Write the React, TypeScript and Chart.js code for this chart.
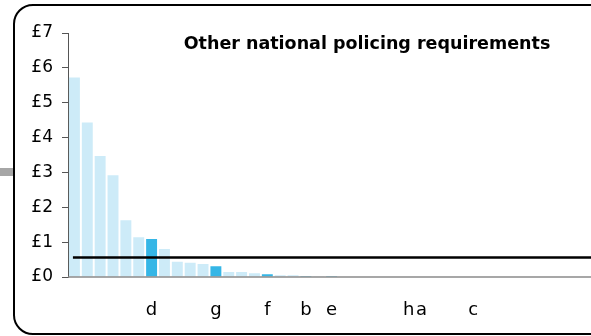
import React, { useEffect, useRef } from "react";
import { Chart, registerables } from "chart.js";

Chart.register(...registerables);

const chartTitle = "Other national policing requirements";

const categories = [
  "", "", "", "", "", "", "d", "", "", "",
  "", "g", "", "", "", "f", "", "", "b", "",
  "e", "", "", "", "", "", "h", "a", "", "",
  "", "c", "", "", "", "", "", "", "", "",
];

const values = [
  5.72, 4.43, 3.47, 2.92, 1.63, 1.14, 1.09, 0.8, 0.44, 0.41,
  0.37, 0.31, 0.14, 0.14, 0.11, 0.08, 0.05, 0.05, 0.03, 0.02,
  0.03, 0, 0, 0, 0, 0, 0, 0, 0, 0,
  0, 0, 0, 0, 0, 0, 0, 0, 0, 0,
];

const highlighted = [6, 11, 15, 18, 20];

const averageValue = 0.56;

const yTicks = [0, 1, 2, 3, 4, 5, 6, 7];

const LIGHT = "#cdebf8";
const DARK = "#35b6e6";
const FONT = "'DejaVu Sans', 'Liberation Sans', Arial, sans-serif";

export default function App() {
  const ref = useRef<HTMLCanvasElement | null>(null);

  useEffect(() => {
    if (!ref.current) return;
    const overlay = {
      id: "overlay",
      afterDatasetsDraw(chart: any) {
        const { ctx, chartArea, scales } = chart;
        const y0 = scales.y.getPixelForValue(0);
        ctx.save();
        // baseline axis
        ctx.strokeStyle = "#8a8a8a";
        ctx.lineWidth = 1.5;
        ctx.beginPath();
        ctx.moveTo(chartArea.left, y0);
        ctx.lineTo(chart.width, y0);
        ctx.stroke();
        // average line
        const ya = scales.y.getPixelForValue(averageValue);
        ctx.strokeStyle = "#000";
        ctx.lineWidth = 2.5;
        ctx.beginPath();
        ctx.moveTo(scales.x.getPixelForValue(0) - 1.5, ya);
        ctx.lineTo(chart.width, ya);
        ctx.stroke();
        // title
        ctx.fillStyle = "#000";
        ctx.font = `bold 17.5px ${FONT}`;
        ctx.textAlign = "center";
        ctx.textBaseline = "alphabetic";
        ctx.fillText(chartTitle, chartArea.left + 299, 49);
        ctx.restore();
      },
    };

    const chart = new Chart(ref.current, {
      type: "bar",
      data: {
        labels: categories,
        datasets: [
          {
            data: values,
            backgroundColor: values.map((_, i) => (highlighted.includes(i) ? DARK : LIGHT)),
            borderWidth: 0,
            barPercentage: 0.85,
            categoryPercentage: 1,
          },
        ],
      },
      options: {
        animation: false,
        responsive: false,
        layout: { padding: { left: 1, top: 33, right: 4, bottom: 0 } },
        plugins: {
          legend: { display: false },
          tooltip: { enabled: false },
          title: { display: false },
        },
        scales: {
          x: {
            grid: { display: false },
            border: { display: false },
            ticks: {
              autoSkip: false,
              maxRotation: 0,
              minRotation: 0,
              padding: 15,
              color: "#000",
              font: { family: FONT, size: 18 },
            },
            afterFit: (s: any) => {
              s.height = 59;
            },
          },
          y: {
            min: 0,
            max: 7,
            afterBuildTicks: (s: any) => {
              s.ticks = yTicks.map((v) => ({ value: v }));
            },
            ticks: {
              padding: 9,
              color: "#000",
              font: { family: FONT, size: 17 },
              callback: (v: any) => "£" + v,
            },
            grid: {
              drawOnChartArea: false,
              tickLength: 6,
              color: "#555",
              tickColor: "#555",
            },
            border: { color: "#555", width: 1 },
            afterFit: (s: any) => {
              s.width = 67;
            },
          },
        },
      },
      plugins: [overlay],
    });
    return () => chart.destroy();
  }, []);

  return (
    <div
      style={{
        position: "absolute",
        left: 0,
        top: 0,
        width: 591,
        height: 336,
        overflow: "hidden",
        background: "#fff",
      }}
    >
      <div
        style={{
          position: "absolute",
          left: 0,
          top: 168,
          width: 13,
          height: 8,
          background: "#a6a6a6",
        }}
      />
      <div
        style={{
          position: "absolute",
          left: 13,
          top: 4,
          width: 600,
          height: 327,
          border: "2px solid #000",
          borderRadius: 20,
        }}
      />
      <canvas
        ref={ref}
        width={591}
        height={336}
        style={{ position: "absolute", left: 0, top: 0 }}
      />
    </div>
  );
}
